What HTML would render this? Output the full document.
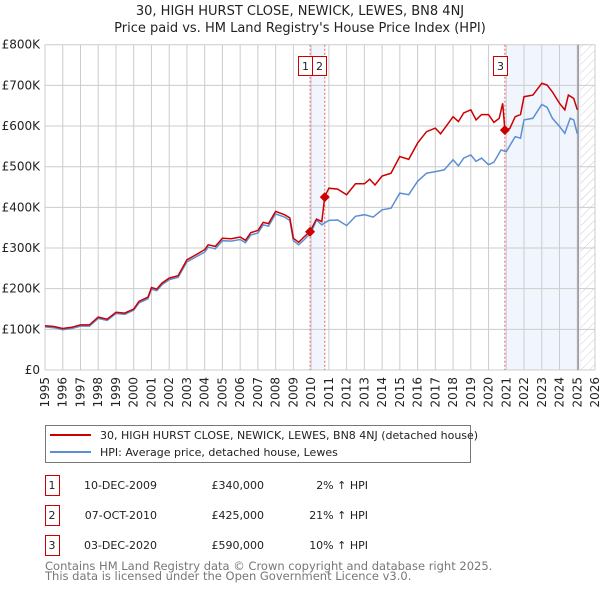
<!DOCTYPE html>
<html><head><meta charset="utf-8"><style>
body{margin:0;background:#fff;font-family:"Liberation Sans","DejaVu Sans",sans-serif}
svg text{font-family:"DejaVu Sans","Liberation Sans",sans-serif}
</style></head><body>
<svg id="c" width="600" height="590" viewBox="0 0 600 590" xmlns="http://www.w3.org/2000/svg">
<defs><pattern id="hatch" width="6" height="6" patternUnits="userSpaceOnUse" patternTransform="rotate(45)"><line x1="0" y1="0" x2="0" y2="6" stroke="#ccc" stroke-width="1"/></pattern></defs>
<text x="300" y="15" text-anchor="middle" font-size="13" fill="#222">30, HIGH HURST CLOSE, NEWICK, LEWES, BN8 4NJ</text>
<text x="300" y="32" text-anchor="middle" font-size="13" fill="#222">Price paid vs. HM Land Registry's House Price Index (HPI)</text>
<g id="plot"></g>
<g>
<rect x="45.5" y="425.5" width="425" height="37" fill="#fff" stroke="#777"/>
<line x1="50" y1="435" x2="91" y2="435" stroke="#cc0000" stroke-width="2"/>
<text x="100" y="439" font-size="11" fill="#222">30, HIGH HURST CLOSE, NEWICK, LEWES, BN8 4NJ (detached house)</text>
<line x1="50" y1="452" x2="91" y2="452" stroke="#5b8fd4" stroke-width="2"/>
<text x="100" y="456" font-size="11" fill="#222">HPI: Average price, detached house, Lewes</text>
</g>
<g id="table" font-size="11" fill="#222"></g>
<text x="45" y="570" font-size="11.5" fill="#777">Contains HM Land Registry data © Crown copyright and database right 2025.</text>
<text x="45" y="580" font-size="11.5" fill="#777">This data is licensed under the Open Government Licence v3.0.</text>
</svg>
<script>
const yTicks=[0,100,200,300,400,500,600,700,800];
const yTickLabels=["£0","£100K","£200K","£300K","£400K","£500K","£600K","£700K","£800K"];
const years=[1995,1996,1997,1998,1999,2000,2001,2002,2003,2004,2005,2006,2007,2008,2009,2010,2011,2012,2013,2014,2015,2016,2017,2018,2019,2020,2021,2022,2023,2024,2025,2026];
const redT=[1995,1995.5,1996,1996.5,1997,1997.5,1998,1998.5,1999,1999.5,2000,2000.3,2000.8,2001,2001.3,2001.6,2002,2002.5,2003,2003.5,2004,2004.2,2004.6,2005,2005.5,2006,2006.3,2006.6,2007,2007.3,2007.6,2008,2008.5,2008.8,2009,2009.3,2009.6,2009.94,2010.3,2010.6,2010.77,2011,2011.5,2012,2012.5,2013,2013.3,2013.6,2014,2014.5,2015,2015.5,2016,2016.5,2017,2017.3,2017.6,2018,2018.3,2018.6,2019,2019.3,2019.6,2020,2020.3,2020.6,2020.8,2020.92,2021.2,2021.5,2021.8,2022,2022.5,2023,2023.3,2023.6,2024,2024.3,2024.5,2024.8,2025];
const redV=[109,107,102,105,111,111,130,125,142,140,150,169,179,203,199,214,226,232,271,283,296,308,304,324,323,327,319,338,343,363,360,390,382,374,324,314,327,341,371,365,427,447,445,431,458,458,469,455,477,484,525,518,558,586,595,581,599,623,611,632,640,615,628,628,609,619,656,590,594,623,628,672,676,705,701,684,656,640,676,668,640];
const blueT=[1995,1995.5,1996,1996.5,1997,1997.5,1998,1998.5,1999,1999.5,2000,2000.3,2000.8,2001,2001.3,2001.6,2002,2002.5,2003,2003.5,2004,2004.2,2004.6,2005,2005.5,2006,2006.3,2006.6,2007,2007.3,2007.6,2008,2008.5,2008.8,2009,2009.3,2009.6,2010,2010.3,2010.6,2011,2011.5,2012,2012.5,2013,2013.5,2014,2014.5,2015,2015.5,2016,2016.5,2017,2017.5,2018,2018.3,2018.6,2019,2019.3,2019.6,2020,2020.3,2020.7,2021,2021.5,2021.8,2022,2022.5,2023,2023.3,2023.6,2024,2024.3,2024.6,2024.8,2025];
const blueV=[106,104,99,102,108,108,127,122,139,137,147,165,175,199,195,210,222,228,266,278,290,302,298,318,317,321,313,332,337,357,354,384,376,368,318,308,320,338,369,357,368,369,355,378,382,376,394,398,435,431,464,484,488,492,517,502,521,529,513,521,505,511,541,537,574,570,615,619,653,646,619,599,582,619,615,581];
const saleT=[2009.94,2010.77,2020.92];
const saleV=[340,425,590];
const saleLabels=["1","2","3"];
const saleDates=["10-DEC-2009","07-OCT-2010","03-DEC-2020"];
const salePrices=["£340,000","£425,000","£590,000"];
const saleHpi=["2% ↑ HPI","21% ↑ HPI","10% ↑ HPI"];

const X0=45,X1=595,Y0=370,Y1=44.7,T0=1995,T1=2026,VMAX=800;
const xs=t=>X0+(t-T0)/(T1-T0)*(X1-X0);
const ys=v=>Y0-v/VMAX*(Y0-Y1);
const NS="http://www.w3.org/2000/svg";
const plot=document.getElementById('plot');
function mk(tag,attrs,parent){const e=document.createElementNS(NS,tag);for(const k in attrs)e.setAttribute(k,attrs[k]);(parent||plot).appendChild(e);return e;}

let r=mk('rect',{x:xs(saleT[0]),y:Y1,width:xs(saleT[1])-xs(saleT[0]),height:Y0-Y1,fill:'#eef3fc',opacity:0.8});


r=mk('rect',{x:xs(saleT[2]),y:Y1,width:xs(2025.2)-xs(saleT[2]),height:Y0-Y1,fill:'#eef3fc',opacity:0.8});


r=mk('rect',{x:xs(2025.2),y:Y1,width:X1-xs(2025.2),height:Y0-Y1,fill:'url(#hatch)'});



years.forEach(y=>{const l=mk('line',{x1:xs(y),x2:xs(y),y1:Y1,y2:Y0,stroke:'#ccc','stroke-width':1});


const t=mk('text',{x:0,y:0,'font-size':12,fill:'#222','text-anchor':'end',transform:`translate(${xs(y)+4},${Y0+7}) rotate(-90)`});
t.textContent=y;

});
yTicks.forEach((v,i)=>{const l=mk('line',{x1:X0,x2:X1,y1:ys(v),y2:ys(v),stroke:'#ccc','stroke-width':1});


const t=mk('text',{x:X0-5,y:ys(v)+4,'font-size':12,fill:'#222','text-anchor':'end'});
t.textContent=yTickLabels[i];

});
r=mk('line',{x1:xs(2025.05),x2:xs(2025.05),y1:Y1,y2:Y0,stroke:'#999','stroke-width':1.5});



saleT.forEach((t,i)=>{const l=mk('line',{x1:xs(t),x2:xs(t),y1:Y1,y2:Y0,stroke:'#f06060','stroke-width':1,'stroke-dasharray':'2,2'});

});

const pts=(T,V)=>T.map((t,i)=>xs(t).toFixed(1)+','+ys(V[i]).toFixed(1)).join(' ');
let p=mk('polyline',{points:pts(blueT,blueV),fill:'none',stroke:'#5b8fd4','stroke-width':1.5});


p=mk('polyline',{points:pts(redT,redV),fill:'none',stroke:'#cc0000','stroke-width':1.5});



const b1r=Math.round(xs(saleT[0]))+2.5;
const boxX=[b1r-14,b1r,Math.round(xs(saleT[2]))-11.5];
saleT.forEach((t,i)=>{const cx=xs(t),cy=ys(saleV[i]);
const d=mk('polygon',{points:`${cx},${cy-5} ${cx+5},${cy} ${cx},${cy+5} ${cx-5},${cy}`,fill:'#cc0000'});


const b=mk('rect',{x:boxX[i],y:56.5,width:14,height:19,fill:'#fff',stroke:'#cc0000'});


const tx=mk('text',{x:boxX[i]+7,y:70,'font-size':11,fill:'#222','text-anchor':'middle'});
tx.textContent=saleLabels[i];

});

const tb=document.getElementById('table');
saleT.forEach((t,i)=>{const y=475+i*30;
const b=mk('rect',{x:45.5,y:y+0.5,width:14,height:20,fill:'#fff',stroke:'#cc0000'},tb);


const cells=[[52,saleLabels[i],'middle'],[157,saleDates[i],'end'],[264,salePrices[i],'end'],[368,saleHpi[i],'end']];
cells.forEach((c,j)=>{const e=mk('text',{x:c[0],y:y+14,'text-anchor':c[2],'font-size':11,fill:'#222'},tb);
e.textContent=c[1];

});});
</script>
</body></html>
